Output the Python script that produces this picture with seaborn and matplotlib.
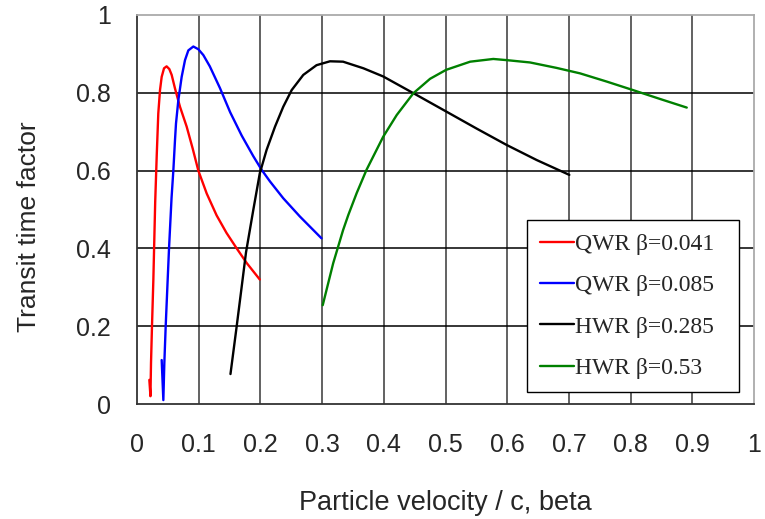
import numpy as np
import pandas as pd
import seaborn as sns
import matplotlib
matplotlib.use("Agg")
import matplotlib.pyplot as plt

labels = ["QWR β=0.041", "QWR β=0.085", "HWR β=0.285", "HWR β=0.53"]
colors = ["#ff0000", "#0000ff", "#000000", "#008000"]

qwr041_x = [0.0200, 0.0218, 0.0227, 0.0243, 0.0265, 0.0295, 0.0320, 0.0345, 0.0373, 0.0400, 0.0438,
            0.0480, 0.0524, 0.0562, 0.0616, 0.0697, 0.0805, 0.0902, 0.0994, 0.113, 0.129,
            0.145, 0.1616, 0.178, 0.199]
qwr041_y = [0.062, 0.020, 0.105, 0.200, 0.319, 0.520, 0.640, 0.747, 0.807, 0.841, 0.863,
            0.868, 0.861, 0.846, 0.811, 0.764, 0.713, 0.657, 0.600, 0.541, 0.485,
            0.440, 0.400, 0.362, 0.320]

qwr085_x = [0.0400, 0.0427, 0.0443, 0.0465, 0.0497, 0.0519, 0.0560, 0.0589, 0.0616, 0.0632, 0.0670,
            0.0724, 0.0778, 0.0832, 0.0913, 0.0994, 0.1075, 0.118, 0.1345, 0.151, 0.1697,
            0.1885, 0.202, 0.2156, 0.237, 0.264, 0.299]
qwr085_y = [0.113, 0.010, 0.105, 0.200, 0.319, 0.400, 0.530, 0.600, 0.679, 0.721, 0.781,
            0.841, 0.884, 0.909, 0.919, 0.912, 0.897, 0.868, 0.812, 0.750, 0.690,
            0.637, 0.602, 0.572, 0.529, 0.482, 0.426]

hwr285_x = [0.1515, 0.1615, 0.1690, 0.1767, 0.1885, 0.199, 0.210, 0.2237, 0.237, 0.2507, 0.2695,
            0.291, 0.3128, 0.334, 0.367, 0.399, 0.448, 0.501, 0.5505, 0.599, 0.648, 0.7007]
hwr285_y = [0.077, 0.199, 0.293, 0.390, 0.499, 0.593, 0.653, 0.713, 0.764, 0.807, 0.846,
            0.871, 0.881, 0.880, 0.863, 0.842, 0.799, 0.752, 0.708, 0.666, 0.627, 0.589]

hwr53_x = [0.301, 0.318, 0.334, 0.3425, 0.356, 0.372, 0.399, 0.421, 0.448, 0.475, 0.501, 0.540,
           0.5775, 0.599, 0.637, 0.680, 0.718, 0.761, 0.800, 0.848, 0.891]
hwr53_y = [0.254, 0.362, 0.447, 0.486, 0.542, 0.602, 0.687, 0.743, 0.799, 0.836, 0.859, 0.880,
           0.887, 0.884, 0.878, 0.864, 0.850, 0.829, 0.809, 0.784, 0.762]

xs = [qwr041_x, qwr085_x, hwr285_x, hwr53_x]
ys = [qwr041_y, qwr085_y, hwr285_y, hwr53_y]

frames = []
for lab, x, y in zip(labels, xs, ys):
    frames.append(pd.DataFrame({"beta": x, "ttf": y, "cavity": lab}))
df = pd.concat(frames, ignore_index=True)

sns.set_style("white")
plt.rcParams["font.family"] = ["Liberation Sans", "DejaVu Sans"]

fig = plt.figure(figsize=(7.65, 5.19), dpi=100)
ax = fig.add_axes([137/765, 1-404/519, (754-137)/765, (404-15)/519])

sns.lineplot(data=df, x="beta", y="ttf", hue="cavity", hue_order=labels,
             palette=colors, sort=False, estimator=None, units="cavity",
             linewidth=1.7, ax=ax, legend=True)
for ln in ax.get_lines():
    ln.set_solid_joinstyle("round")

ax.set_xlim(0, 1)
ax.set_ylim(0, 1)
ax.set_xticks(np.arange(0, 1.01, 0.1))
ax.set_yticks(np.arange(0, 1.01, 0.2))
ax.set_xticklabels(["0", "0.1", "0.2", "0.3", "0.4", "0.5", "0.6", "0.7", "0.8", "0.9", "1"])
ax.set_yticklabels(["0", "0.2", "0.4", "0.6", "0.8", "1"])
ax.tick_params(axis="x", length=0, pad=21, labelsize=18)
ax.tick_params(axis="y", length=0, pad=19, labelsize=18)

for xv in np.arange(0.1, 1.0, 0.1):
    ax.axvline(xv, color="#555555", linewidth=1.3, zorder=0)
for yv in np.arange(0.2, 1.0, 0.2):
    ax.axhline(yv, color="#000000", linewidth=1.1, zorder=0)

ax.spines["left"].set_color("#333333")
ax.spines["bottom"].set_color("#333333")
ax.spines["top"].set_color("#aaaaaa")
ax.spines["right"].set_color("#aaaaaa")
for s in ax.spines.values():
    s.set_linewidth(1.3)

ax.set_xlabel("Particle velocity / c, beta", fontsize=19.5, labelpad=24)
ax.set_ylabel("Transit time factor", fontsize=19, labelpad=14)
ax.yaxis.set_label_coords(-0.155, 0.455)

leg = ax.legend(loc="lower left", bbox_to_anchor=(0.632, 0.031, 0.344, 0.44),
                mode="expand",
                prop={"family": "Liberation Serif", "size": 17},
                frameon=True, fancybox=False, framealpha=1,
                edgecolor="black", handlelength=1.45, handletextpad=0.05,
                labelspacing=0.84, borderpad=0.55, borderaxespad=0)
leg.get_frame().set_linewidth(1.0)

fig.savefig("out.png", dpi=100)
